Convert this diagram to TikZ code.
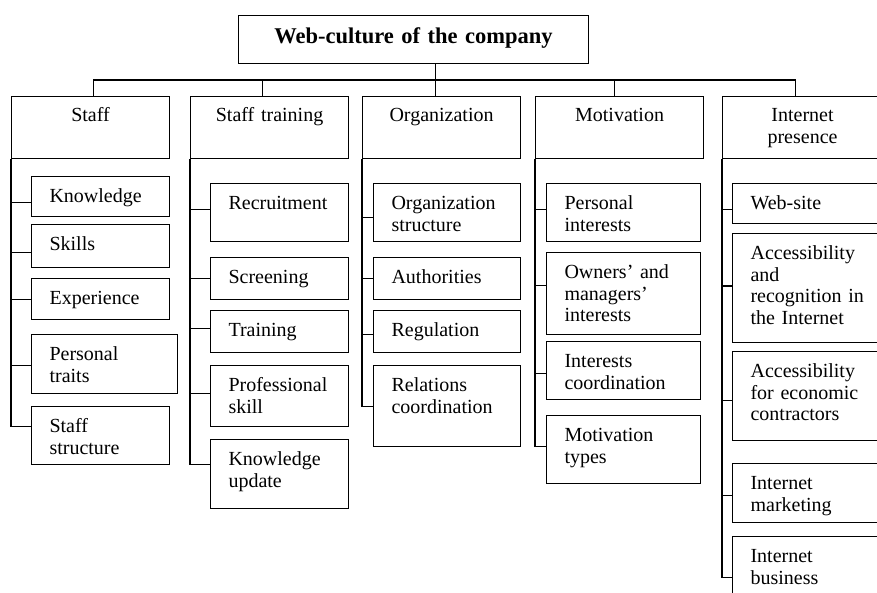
\documentclass[tikz,border=0pt]{standalone}
\usepackage{fontspec}
\setmainfont{Liberation Serif}
\newcommand\chartfont{\fontsize{20}{21.5}\selectfont}
\tikzset{
  topbox/.style={draw, rectangle, anchor=north west, inner sep=0pt, align=center,
    text height=28pt, text depth=20pt, font=\fontsize{22.5}{24}\selectfont\bfseries},
  groupbox/.style={draw, rectangle, anchor=north west, inner sep=0pt, align=center,
    text height=25pt, text depth=37pt, font=\chartfont},
  itembox/.style={draw, rectangle, anchor=north west, inner xsep=18pt, inner ysep=0pt,
    align=left, text height=26pt, font=\chartfont},
}
\begin{document}
\begin{tikzpicture}[x=1pt, y=-1pt, line width=1.1pt]
        \clip (0,0) rectangle (877,593);
        \node[topbox, text width=350pt] (culture) at (238,15) {Web-culture of the company};

        \node[groupbox, text width=158pt] (staff) at (11,96) {Staff};
        \node[groupbox, text width=158pt] (training) at (190,96) {Staff training};
        \node[groupbox, text width=158pt] (organization) at (362,96) {Organization};
        \node[groupbox, text width=168pt] (motivation) at (535,96) {Motivation};
        \node[groupbox, text width=160pt] (internet) at (722,96) {Internet\\presence};

        \node[itembox, text width=102pt, text depth=14pt] (knowledge) at (31,176) {Knowledge};
        \node[itembox, text width=102pt, text depth=17pt] (skills) at (31,224) {Skills};
        \node[itembox, text width=102pt, text depth=15pt] (experience) at (31,278) {Experience};
        \node[itembox, text width=110pt, text depth=33pt] (traits) at (31,334) {Personal\\traits};
        \node[itembox, text width=102pt, text depth=32pt] (structure) at (31,406) {Staff\\structure};

        \node[itembox, text width=102pt, text depth=32pt] (recruitment) at (210,183) {Recruitment};
        \node[itembox, text width=102pt, text depth=16pt] (screening) at (210,257) {Screening};
        \node[itembox, text width=102pt, text depth=16pt] (course) at (210,310) {Training};
        \node[itembox, text width=102pt, text depth=35pt] (profskill) at (210,365) {Professional\\skill};
        \node[itembox, text width=102pt, text depth=43pt] (update) at (210,439) {Knowledge\\update};

        \node[itembox, text width=111pt, text depth=32pt] (orgstructure) at (373,183) {Organization\\structure};
        \node[itembox, text width=111pt, text depth=16pt] (authorities) at (373,257) {Authorities};
        \node[itembox, text width=111pt, text depth=16pt] (regulation) at (373,310) {Regulation};
        \node[itembox, text width=111pt, text depth=55pt] (relations) at (373,365) {Relations\\coordination};

        \node[itembox, text width=118pt, text depth=32pt] (personal) at (546,183) {Personal\\interests};
        \node[itembox, text width=118pt, text depth=56pt] (owners) at (546,252) {Owners’ and\\managers’\\interests};
        \node[itembox, text width=118pt, text depth=32pt] (coordination) at (546,341) {Interests\\coordination};
        \node[itembox, text width=118pt, text depth=42pt] (types) at (546,415) {Motivation\\types};

        \node[itembox, text width=118pt, text depth=14pt] (website) at (732,183) {Web-site};
        \node[itembox, text width=118pt, text depth=83pt] (recognition) at (732,233) {Accessibility\\and\\recognition in\\the Internet};
        \node[itembox, text width=118pt, text depth=63pt] (contractors) at (732,351) {Accessibility\\for economic\\contractors};
        \node[itembox, text width=118pt, text depth=33pt] (marketing) at (732,463) {Internet\\marketing};
        \node[itembox, text width=118pt, text depth=36pt] (business) at (732,536) {Internet\\business};

        \coordinate (orgtop) at ([xshift=-6pt]organization.north);
        \draw (orgtop |- culture.south) -- (orgtop);
        \draw ([xshift=3pt]staff.north) -- ++(0,-16) -| ([xshift=-7pt]internet.north);
        \foreach \n/\dx in {training/-7, motivation/-5}
            \draw ([xshift=\dx pt]\n.north) -- ++(0,-16);

        \foreach \n/\dy in {knowledge/-6, skills/-6.5, experience/0, traits/-1.5, structure/9}
            \draw ([yshift=\dy pt]\n.west) -| (staff.south west);
        \foreach \n/\dy in {recruitment/3, screening/0, course/3, profskill/2.5, update/9.5}
            \draw ([yshift=\dy pt]\n.west) -| (training.south west);
        \foreach \n/\dy in {orgstructure/-5, authorities/0, regulation/-3, relations/0}
            \draw ([yshift=\dy pt]\n.west) -| (organization.south west);
        \foreach \n/\dy in {personal/3, owners/8, coordination/-3, types/3}
            \draw ([yshift=\dy pt]\n.west) -| (motivation.south west);
        \foreach \n/\dy in {website/-6, recognition/2, contractors/-4, marketing/-2.5, business/-10}
            \draw ([yshift=\dy pt]\n.west) -| (internet.south west);
    \end{tikzpicture}
\end{document}
